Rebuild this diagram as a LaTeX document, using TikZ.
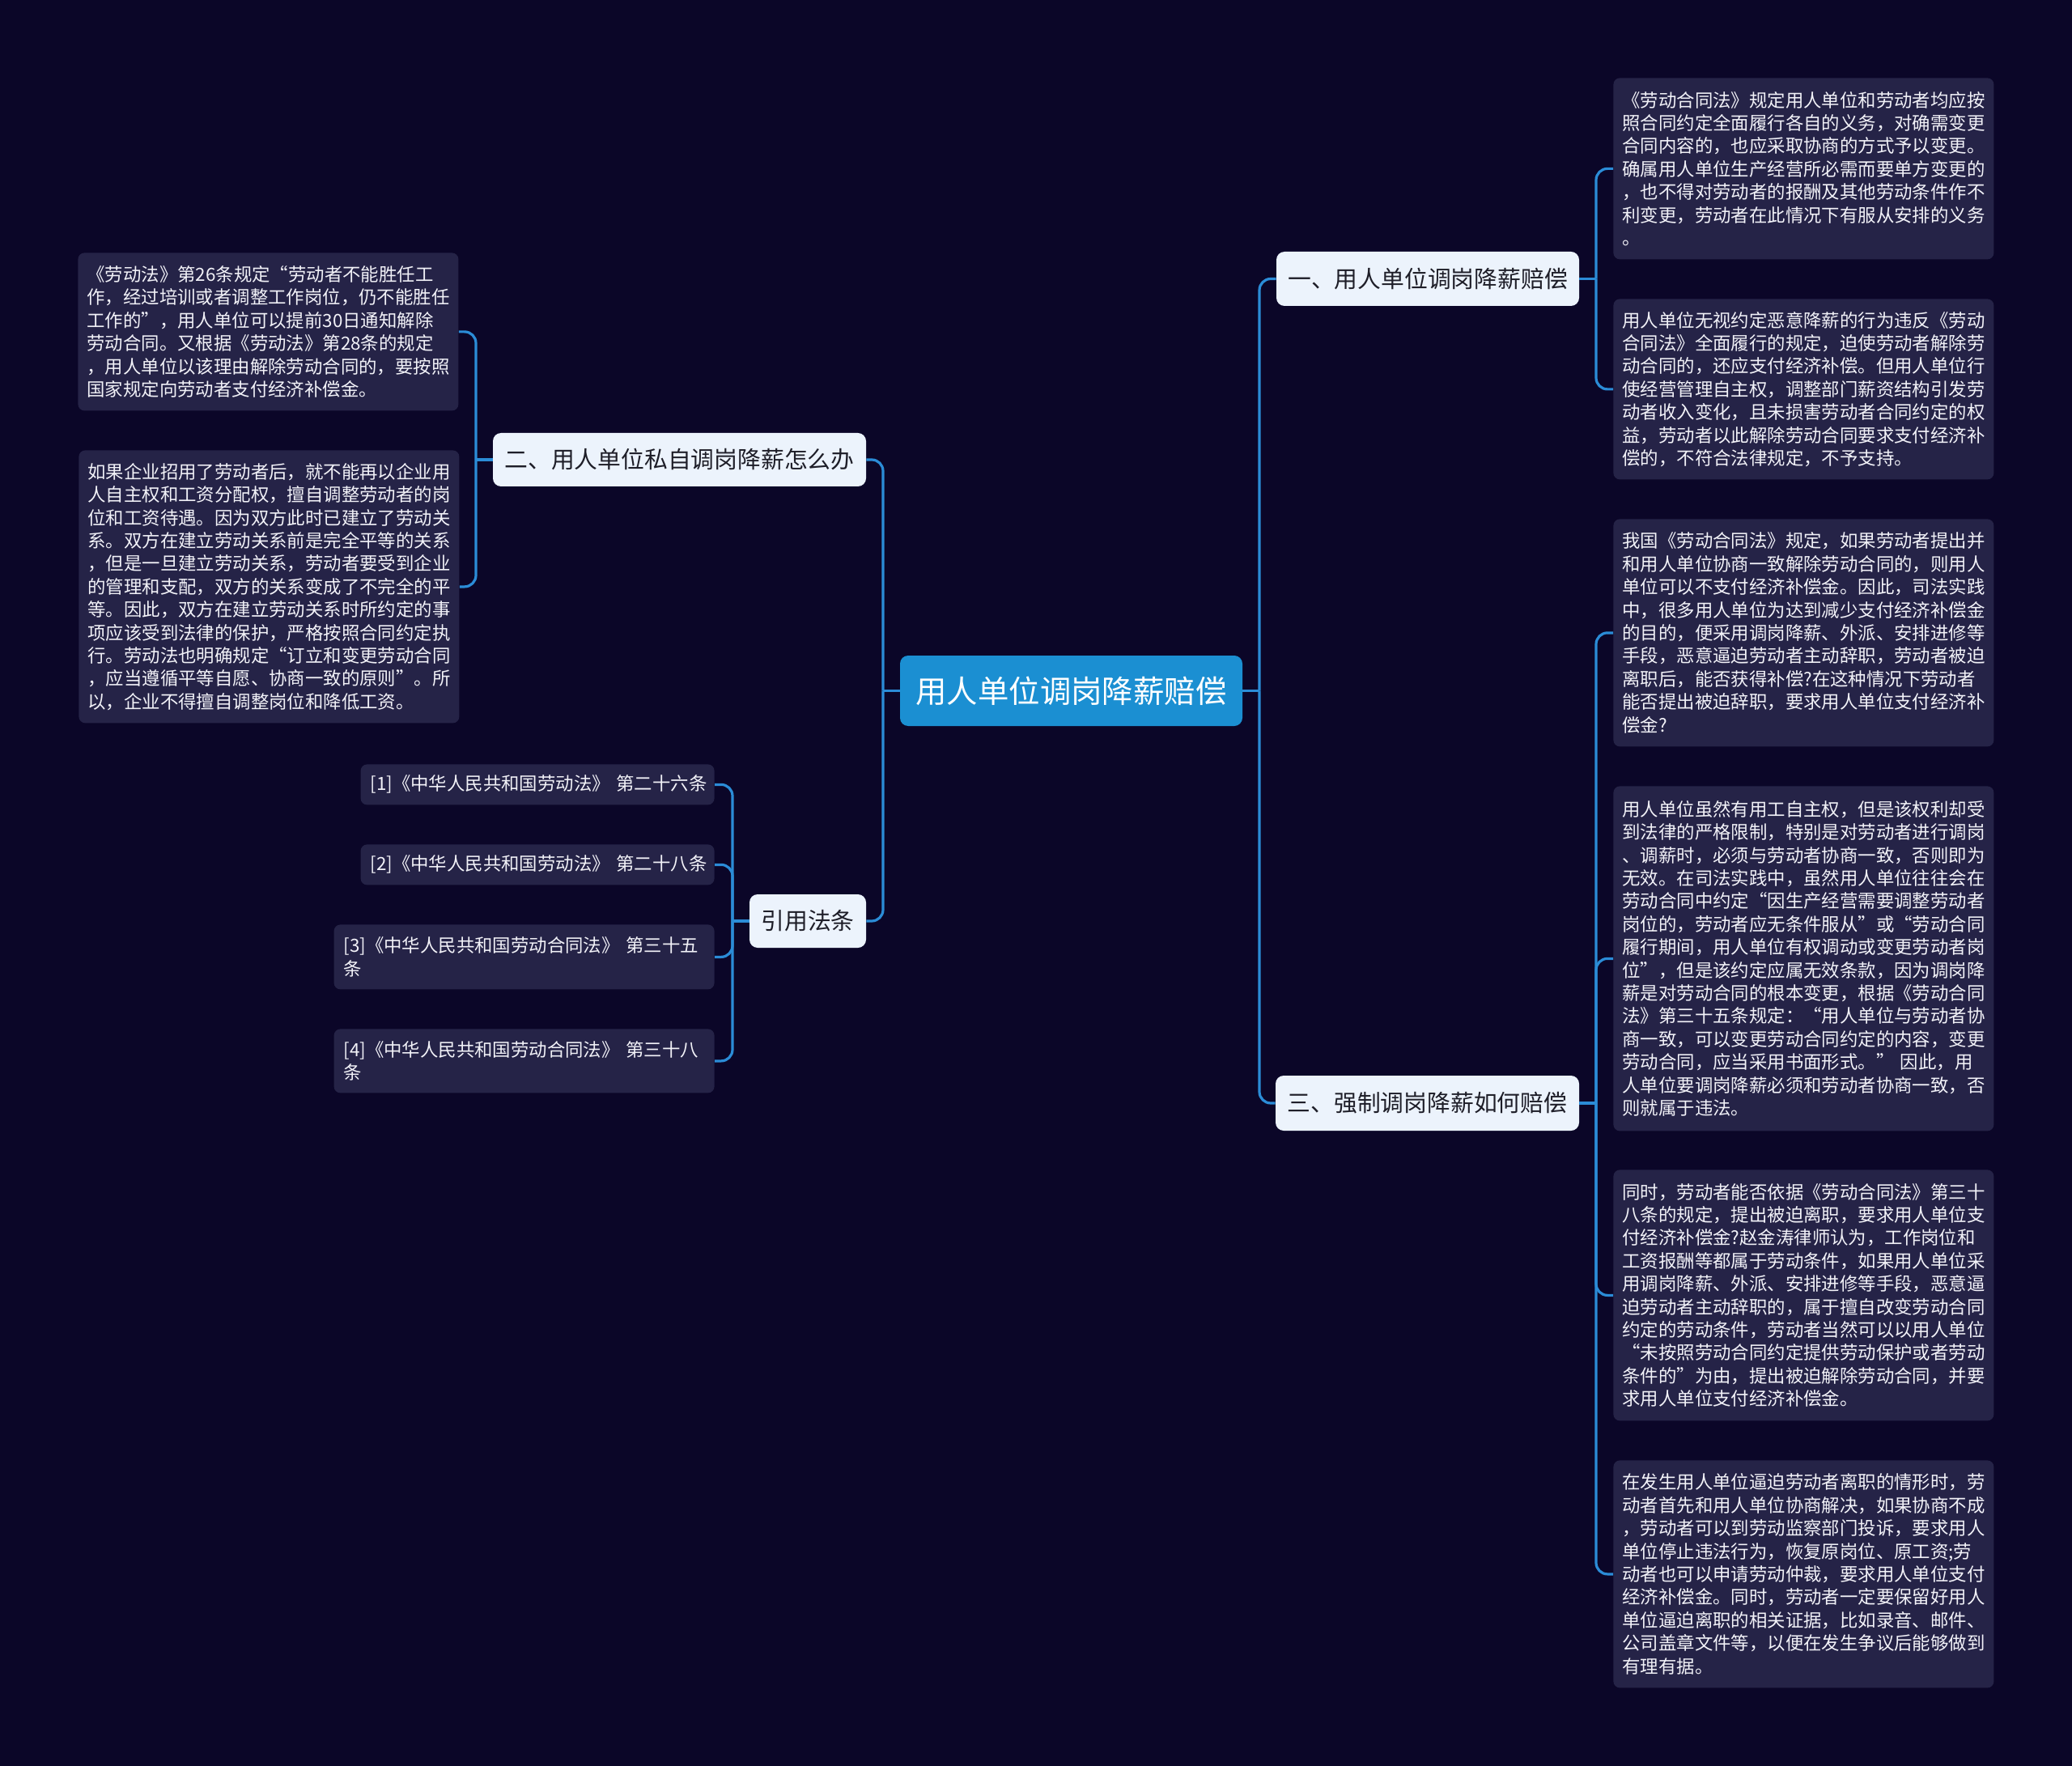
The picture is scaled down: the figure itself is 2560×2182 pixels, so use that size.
\documentclass[tikz,border=0pt]{standalone}
\usepackage{fontspec}
\setmainfont{Noto Sans CJK SC}
\definecolor{bgc}{RGB}{11,6,40}
\definecolor{leafc}{RGB}{37,35,71}
\definecolor{leaftxt}{RGB}{242,242,248}
\definecolor{centerc}{RGB}{27,143,210}
\definecolor{branchc}{RGB}{236,243,252}
\definecolor{branchtxt}{RGB}{30,30,40}
\definecolor{connc}{RGB}{43,140,215}
\begin{document}
\begin{tikzpicture}[x=0.5pt,y=-0.5pt,
  leaf/.style={fill=leafc, rounded corners=4pt, text=leaftxt,
    font=\fontsize{11.2pt}{14.2pt}\selectfont, align=left,
    inner xsep=5.5pt, inner ysep=0pt, text width=224pt},
  refbox/.style={fill=leafc, rounded corners=4pt, text=leaftxt,
    font=\fontsize{11.2pt}{14.2pt}\selectfont, align=left,
    inner xsep=6pt, inner ysep=0pt, anchor=north east},
  branch/.style={fill=branchc, rounded corners=5pt, text=branchtxt,
    font=\fontsize{14.4pt}{17pt}\selectfont, inner sep=0pt},
  rootbox/.style={fill=centerc, rounded corners=5pt, text=white,
    font=\fontsize{19.2pt}{22pt}\selectfont, inner sep=0pt,
    minimum width=211.5pt, minimum height=43.5pt},
  conn/.style={draw=connc, line width=1.6pt, rounded corners=7pt}
]
\useasboundingbox (0,0) rectangle (2560,2182);
\fill[bgc] (0,0) rectangle (2560,2182);

% root
\node[rootbox] (c) at (1323.5,853.5) {用人单位调岗降薪赔偿};

% branches
\node[branch, minimum width=187pt, minimum height=33.5pt] (b1) at (1764,344.5) {一、用人单位调岗降薪赔偿};
\node[branch, minimum width=230.5pt, minimum height=33pt] (b2) at (839.5,568) {二、用人单位私自调岗降薪怎么办};
\node[branch, minimum width=72pt, minimum height=33pt] (b3) at (998,1138) {引用法条};
\node[branch, minimum width=187.5pt, minimum height=34pt] (b4) at (1763.5,1363) {三、强制调岗降薪如何赔偿};

% right leaves
\node[leaf, anchor=north west, minimum height=112pt] (r1) at (1993,96) {《劳动合同法》规定用人单位和劳动者均应按\\照合同约定全面履行各自的义务，对确需变更\\合同内容的，也应采取协商的方式予以变更。\\确属用人单位生产经营所必需而要单方变更的\\，也不得对劳动者的报酬及其他劳动条件作不\\利变更，劳动者在此情况下有服从安排的义务\\。};
\node[leaf, anchor=north west, minimum height=111.5pt] (r2) at (1993,369) {用人单位无视约定恶意降薪的行为违反《劳动\\合同法》全面履行的规定，迫使劳动者解除劳\\动合同的，还应支付经济补偿。但用人单位行\\使经营管理自主权，调整部门薪资结构引发劳\\动者收入变化，且未损害劳动者合同约定的权\\益，劳动者以此解除劳动合同要求支付经济补\\偿的，不符合法律规定，不予支持。};
\node[leaf, anchor=north west, minimum height=140.5pt] (r3) at (1993,641) {我国《劳动合同法》规定，如果劳动者提出并\\和用人单位协商一致解除劳动合同的，则用人\\单位可以不支付经济补偿金。因此，司法实践\\中，很多用人单位为达到减少支付经济补偿金\\的目的，便采用调岗降薪、外派、安排进修等\\手段，恶意逼迫劳动者主动辞职，劳动者被迫\\离职后，能否获得补偿?在这种情况下劳动者\\能否提出被迫辞职，要求用人单位支付经济补\\偿金?};
\node[leaf, anchor=north west, minimum height=213pt] (r4) at (1993,971) {用人单位虽然有用工自主权，但是该权利却受\\到法律的严格限制，特别是对劳动者进行调岗\\、调薪时，必须与劳动者协商一致，否则即为\\无效。在司法实践中，虽然用人单位往往会在\\劳动合同中约定“因生产经营需要调整劳动者\\岗位的，劳动者应无条件服从”或“劳动合同\\履行期间，用人单位有权调动或变更劳动者岗\\位”，但是该约定应属无效条款，因为调岗降\\薪是对劳动合同的根本变更，根据《劳动合同\\法》第三十五条规定：“用人单位与劳动者协\\商一致，可以变更劳动合同约定的内容，变更\\劳动合同，应当采用书面形式。” 因此，用\\人单位要调岗降薪必须和劳动者协商一致，否\\则就属于违法。};
\node[leaf, anchor=north west, minimum height=155pt] (r5) at (1993,1445) {同时，劳动者能否依据《劳动合同法》第三十\\八条的规定，提出被迫离职，要求用人单位支\\付经济补偿金?赵金涛律师认为，工作岗位和\\工资报酬等都属于劳动条件，如果用人单位采\\用调岗降薪、外派、安排进修等手段，恶意逼\\迫劳动者主动辞职的，属于擅自改变劳动合同\\约定的劳动条件，劳动者当然可以以用人单位\\“未按照劳动合同约定提供劳动保护或者劳动\\条件的”为由，提出被迫解除劳动合同，并要\\求用人单位支付经济补偿金。};
\node[leaf, anchor=north west, minimum height=140.5pt] (r6) at (1993,1804) {在发生用人单位逼迫劳动者离职的情形时，劳\\动者首先和用人单位协商解决，如果协商不成\\，劳动者可以到劳动监察部门投诉，要求用人\\单位停止违法行为，恢复原岗位、原工资;劳\\动者也可以申请劳动仲裁，要求用人单位支付\\经济补偿金。同时，劳动者一定要保留好用人\\单位逼迫离职的相关证据，比如录音、邮件、\\公司盖章文件等，以便在发生争议后能够做到\\有理有据。};

% left leaves
\node[leaf, anchor=north west, minimum height=97.5pt] (l1) at (96,312) {《劳动法》第26条规定“劳动者不能胜任工\\作，经过培训或者调整工作岗位，仍不能胜任\\工作的”，用人单位可以提前30日通知解除\\劳动合同。又根据《劳动法》第28条的规定\\，用人单位以该理由解除劳动合同的，要按照\\国家规定向劳动者支付经济补偿金。};
\node[leaf, anchor=north west, minimum height=168.5pt] (l2) at (97,556) {如果企业招用了劳动者后，就不能再以企业用\\人自主权和工资分配权，擅自调整劳动者的岗\\位和工资待遇。因为双方此时已建立了劳动关\\系。双方在建立劳动关系前是完全平等的关系\\，但是一旦建立劳动关系，劳动者要受到企业\\的管理和支配，双方的关系变成了不完全的平\\等。因此，双方在建立劳动关系时所约定的事\\项应该受到法律的保护，严格按照合同约定执\\行。劳动法也明确规定“订立和变更劳动合同\\，应当遵循平等自愿、协商一致的原则”。所\\以，企业不得擅自调整岗位和降低工资。};

% references
\node[refbox, text width=206.5pt, minimum height=25pt] (f1) at (883,944) {[1]《中华人民共和国劳动法》~第二十六条};
\node[refbox, text width=206.5pt, minimum height=25pt] (f2) at (883,1043) {[2]《中华人民共和国劳动法》~第二十八条};
\node[refbox, text width=223pt, minimum height=40pt] (f3) at (883,1142) {[3]《中华人民共和国劳动合同法》~第三十五\\条};
\node[refbox, text width=223pt, minimum height=39.5pt] (f4) at (883,1271) {[4]《中华人民共和国劳动合同法》~第三十八\\条};

% trunk coordinates
\coordinate (tR) at (1556,853.5);
\coordinate (tL) at (1091,853.5);
\coordinate (t1) at (1972,344.5);
\coordinate (t4) at (1972,1363);
\coordinate (t2) at (588,568);
\coordinate (t3) at (905,1138);

% connectors
\draw[conn] (c.east) -- (tR);
\draw[conn] (tR) |- (b1.west);
\draw[conn] (tR) |- (b4.west);
\draw[conn] (c.west) -- (tL);
\draw[conn] (tL) |- (b2.east);
\draw[conn] (tL) |- (b3.east);

\draw[conn] (b1.east) -- (t1);
\draw[conn] (t1) |- (r1.west);
\draw[conn] (t1) |- (r2.west);

\draw[conn] (b4.east) -- (t4);
\draw[conn] (t4) |- (r3.west);
\draw[conn] (t4) |- (r4.west);
\draw[conn] (t4) |- (r5.west);
\draw[conn] (t4) |- (r6.west);

\draw[conn] (b2.west) -- (t2);
\draw[conn] (t2) |- (l1.east);
\draw[conn] (t2) |- (l2.east);

\draw[conn] (b3.west) -- (t3);
\draw[conn] (t3) |- (f1.east);
\draw[conn] (t3) |- (f2.east);
\draw[conn] (t3) |- (f3.east);
\draw[conn] (t3) |- (f4.east);
\end{tikzpicture}
\end{document}
